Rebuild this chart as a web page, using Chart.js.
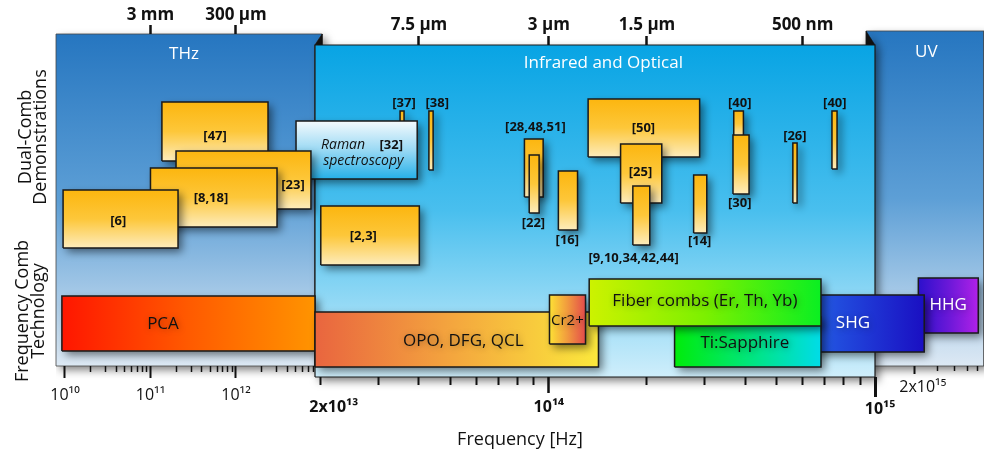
<!DOCTYPE html>
<html>
<head>
<meta charset="utf-8">
<script src="https://cdn.jsdelivr.net/npm/chart.js@4.4.1/dist/chart.umd.min.js"></script>
<style>
  html, body { margin: 0; padding: 0; background: #fff; }
  canvas { display: block; }
</style>
</head>
<body>
<canvas id="combChart" width="984" height="456"></canvas>
<script>
// ================= DATA (frequencies in Hz, heights in row units)

// spectral regions
const regionNames  = ['THz', 'UV', 'Infrared and Optical'];
const regionFrom   = [7.85e9, 9.39e14, 1.92e13];
const regionTo     = [8.4e12, 6.7e15, 1e15];
const regionTop    = [34.3, 34.6, 33.2];
const regionBottom = [1.1, 1.1, 0];
const regionTextAt = [2.47e11, 2.45e15, 1.47e14];
const regionTextY  = [32.3, 32.5, 31.4];

// dual-comb demonstrations (drawn back to front)
const demoRefs   = ['[37]', '[47]', '[23]', '[8,18]', '[6]', '[38]', '[2,3]', '[28,48,51]', '[22]', '[16]',
                    '[50]', '[25]', '[9,10,34,42,44]', '[14]', '[40]', '[30]', '[26]', '[40]'];
const demoFrom   = [3.50e13, 1.36e11, 1.99e11, 1.0e11, 9.5e9, 4.29e13, 2.0e13, 8.42e13, 8.71e13, 1.07e14,
                    1.32e14, 1.66e14, 1.81e14, 2.78e14, 3.69e14, 3.67e14, 5.60e14, 7.38e14];
const demoTo     = [3.60e13, 2.37e12, 7.53e12, 3.02e12, 2.1e11, 4.42e13, 4.01e13, 9.61e13, 9.34e13, 1.225e14,
                    2.90e14, 2.22e14, 2.04e14, 3.05e14, 3.95e14, 4.11e14, 5.77e14, 7.65e14];
const demoTop    = [26.6, 27.5, 22.6, 20.9, 18.7, 26.6, 17.1, 23.8, 22.2, 20.6,
                    27.8, 23.3, 19.1, 20.2, 26.6, 24.2, 23.4, 26.6];
const demoBottom = [24.5, 21.6, 16.8, 15.0, 12.9, 20.7, 11.2, 18.0, 16.4, 14.7,
                    22.0, 17.4, 13.2, 14.4, 24.0, 18.3, 17.4, 20.8];
const demoTextAt = [3.6e13, 5.7e11, 4.64e12, 5.1e11, 4.2e10, 4.55e13, 2.70e13, 9.1e13, 8.97e13, 1.14e14,
                    1.95e14, 1.91e14, 1.82e14, 2.90e14, 3.85e14, 3.85e14, 5.68e14, 7.53e14];
const demoTextY  = [27.4, 24.1, 19.2, 17.9, 15.6, 27.4, 14.1, 25.0, 15.4, 13.7,
                    24.9, 20.5, 11.9, 13.6, 27.4, 17.4, 24.1, 27.4];

// Raman spectroscopy [32]
const ramanRange = [5.04e12, 3.95e13];
const ramanRows  = [25.6, 19.8];
const ramanText  = ['Raman', '[32]', 'spectroscopy'];
const ramanTextAt = [2.34e13, 3.29e13, 2.70e13];
const ramanTextY  = [23.2, 23.2, 21.6];

// frequency comb technology (drawn back to front)
const techNames  = ['PCA', 'OPO, DFG, QCL', 'Cr2+', 'HHG', 'SHG', 'Ti:Sapphire', 'Fiber combs (Er, Th, Yb)'];
const techFrom   = [9.2e9, 1.92e13, 1.005e14, 2.13e15, 5.93e14, 2.43e14, 1.33e14];
const techTo     = [8.4e12, 1.42e14, 1.296e14, 6.06e15, 2.36e15, 6.83e14, 6.83e14];
const techTop    = [8.1, 6.5, 8.2, 9.9, 8.2, 6.0, 9.8];
const techBottom = [2.6, 1.0, 3.3, 4.4, 2.5, 1.0, 5.1];
const techTextAt = [1.4e11, 5.47e13, 1.14e14, 3.59e15, 8.56e14, 3.99e14, 3.01e14];
const techTextY  = [5.3, 3.6, 5.6, 7.2, 5.4, 3.4, 7.6];

// axis ticks
const waveTicksL = [1e11, 1e12];
const waveTextL  = ['3 mm', '300 μm'];
const waveTicksM = [4e13, 1e14, 2e14, 6e14];
const waveTextM  = ['7.5 μm', '3 μm', '1.5 μm', '500 nm'];
const freqTicksL = [1e10, 1e11, 1e12];
const freqTextL  = ['10¹⁰', '10¹¹', '10¹²'];
const freqTicksM = [2e13, 1e14, 1e15];
const freqTextM  = ['2x10¹³', '10¹⁴', '10¹⁵'];
const freqTicksR = [2e15];
const freqTextR  = ['2x10¹⁵'];

const sideText = [['Dual-Comb', 'Demonstrations'], ['Frequency Comb', 'Technology']];
const sideTextY = [24.0, 6.6];

// ================= STYLE
const FONT = "'Open Sans', 'DejaVu Sans', sans-serif";
Chart.defaults.font.family = FONT;
Chart.defaults.color = '#111';

const regionColors = [['#2676c0', '#5d9fd6', '#dde9f4'], ['#2676c0', '#5d9fd6', '#dde9f4'], ['#08a4e4', '#49bfee', '#cfeefb']];
const demoColors = ['#fcb60f', '#fdc73a', '#fdecbc'];
const ramanColors = ['#f4fafd', '#9ad9f4', '#25b0e8'];
const techColors = [
  ['#ff1600', '#ff5a00', '#ff9400'],
  ['#e9653f', '#f4a83e', '#fbe83c'],
  ['#fde135', '#f19a3e', '#e34b4b'],
  ['#2c10cc', '#6a18d8', '#b021e8'],
  ['#2466e8', '#1f3ad6', '#1a0fc2'],
  ['#00ec0a', '#00e67a', '#00dce8'],
  ['#cdf200', '#7cf000', '#0aef22']
];

// ================= piecewise logarithmic (broken) frequency axis
const AXIS_PIECES = [
  {from: 7.85e9, to: 8.4e12, span: 259},
  {from: 1.92e13, to: 1e15, span: 560},
  {from: 1e15, to: 6.7e15, span: 109}
];
const AXIS_SPAN = AXIS_PIECES.reduce((s, p) => s + p.span, 0);

class BrokenLogScale extends Chart.Scale {
  determineDataLimits() { this.min = 0; this.max = 1; }
  buildTicks() { return []; }
  getLabelForValue(v) { return String(v); }
  toDecimal(v) {
    const lg = Math.log10(v);
    let acc = 0;
    for (const p of AXIS_PIECES) {
      const a = Math.log10(p.from), b = Math.log10(p.to);
      if (lg <= b) {
        const f = Math.max(0, (lg - a) / (b - a));
        return (acc + f * p.span) / AXIS_SPAN;
      }
      acc += p.span;
    }
    return 1;
  }
  getPixelForValue(v) { return this.getPixelForDecimal(this.toDecimal(v)); }
  getValueForPixel(px) {
    let d = this.getDecimalForPixel(px) * AXIS_SPAN;
    for (const p of AXIS_PIECES) {
      if (d <= p.span) {
        const a = Math.log10(p.from), b = Math.log10(p.to);
        return Math.pow(10, a + (d / p.span) * (b - a));
      }
      d -= p.span;
    }
    return AXIS_PIECES[AXIS_PIECES.length - 1].to;
  }
}
BrokenLogScale.id = 'brokenLog';
BrokenLogScale.defaults = {};
Chart.register(BrokenLogScale);

function minorTicks(exps, keep) {
  const out = [];
  exps.forEach(e => { for (let m = 2; m <= 9; m++) { const v = m * Math.pow(10, e); if (keep(v)) out.push(v); } });
  return out;
}

function tickAxis(at, values, labels, o) {
  return {
    type: 'brokenLog',
    axis: 'x',
    position: {y: at},
    afterBuildTicks: axis => { axis.ticks = values.map(v => ({value: v})); },
    border: {display: false},
    grid: {display: true, drawOnChartArea: false, drawTicks: true, tickLength: o.len,
           tickWidth: o.width || 1.5, tickColor: '#111', z: 1},
    ticks: {display: !!labels, autoSkip: false, maxRotation: 0, minRotation: 0, z: 1,
            padding: o.pad || 0, labelOffset: o.offset || 0, color: '#111',
            font: {size: o.size || 16, weight: o.weight || 'normal'},
            callback: (v, i) => labels ? labels[i] : ''},
    title: o.title || {display: false}
  };
}

// ================= build datasets
function gradientFill(stops, vertical) {
  return (context) => {
    const chart = context.chart;
    const ds = chart.data.datasets[context.datasetIndex];
    const xs = chart.scales.x, ys = chart.scales.y;
    if (!ds || !xs || !ys || !chart.chartArea) return stops[0];
    const px = ds.data.map(p => xs.getPixelForValue(p.x));
    const py = ds.data.map(p => ys.getPixelForValue(p.y));
    const g = vertical
      ? chart.ctx.createLinearGradient(0, Math.min(...py), 0, Math.max(...py))
      : chart.ctx.createLinearGradient(Math.min(...px), 0, Math.max(...px), 0);
    stops.forEach((c, i) => g.addColorStop(i / (stops.length - 1), c));
    return g;
  };
}

function shape(points, fill, border, width) {
  return {
    type: 'line',
    xAxisID: 'x', yAxisID: 'y',
    data: points.map(p => ({x: p[0], y: p[1]})),
    fill: 'shape',
    backgroundColor: fill,
    borderColor: border,
    borderWidth: width,
    borderJoinStyle: 'miter',
    pointRadius: 0,
    tension: 0,
    clip: false
  };
}

function rect(lo, hi, top, bottom) {
  return [[lo, bottom], [lo, top], [hi, top], [hi, bottom], [lo, bottom]];
}

const datasets = [];
// THz region, with its folded corner running onto the IR panel
datasets.push(shape([[regionFrom[0], regionBottom[0]], [regionFrom[0], regionTop[0]], [2.02e13, regionTop[0]],
                     [regionFrom[2], regionTop[2]], [regionFrom[2], regionBottom[0]], [regionFrom[0], regionBottom[0]]],
                    gradientFill(regionColors[0], true), 'rgba(70,70,70,0.8)', 1));
datasets.push(shape(rect(regionFrom[1], regionTo[1], regionTop[1], regionBottom[1]),
                    gradientFill(regionColors[1], true), 'rgba(70,70,70,0.8)', 1));
datasets.push(shape([[2.02e13, regionTop[0]], [2.02e13, regionTop[2]], [regionFrom[2], regionTop[2]], [2.02e13, regionTop[0]]],
                    '#111', '#111', 0.5));
datasets.push(shape([[regionFrom[1], regionTop[1]], [regionTo[2], regionTop[2]], [regionFrom[1], regionTop[2]], [regionFrom[1], regionTop[1]]],
                    '#111', '#111', 0.5));
datasets.push(shape(rect(regionFrom[2], regionTo[2], regionTop[2], regionBottom[2]),
                    gradientFill(regionColors[2], true), '#1a1a1a', 1.2));

demoRefs.forEach((ref, i) => {
  datasets.push(shape(rect(demoFrom[i], demoTo[i], demoTop[i], demoBottom[i]),
                      gradientFill(demoColors, true), '#1a1a1a', 1.5));
  if (i === 0) {
    datasets.push(shape(rect(ramanRange[0], ramanRange[1], ramanRows[0], ramanRows[1]),
                        gradientFill(ramanColors, true), '#1a1a1a', 1.5));
  }
});

techNames.forEach((name, i) => {
  datasets.push(shape(rect(techFrom[i], techTo[i], techTop[i], techBottom[i]),
                      gradientFill(techColors[i], false), '#1a1a1a', 1.5));
});

// first dataset is painted at the back
datasets.forEach((d, i) => { d.order = datasets.length - i; });

// ================= plugins
const shadowPlugin = {
  id: 'dropShadow',
  beforeDatasetsDraw(chart) {
    const ctx = chart.ctx;
    const baseFill = CanvasRenderingContext2D.prototype.fill;
    ctx.fill = function () {
      this.save();
      this.shadowColor = 'rgba(0,0,0,0.5)';
      this.shadowBlur = 8;
      this.shadowOffsetX = 4;
      this.shadowOffsetY = 4;
      baseFill.apply(this, arguments);
      this.restore();
    };
  },
  afterDatasetsDraw(chart) { delete chart.ctx.fill; }
};

const textPlugin = {
  id: 'boxText',
  afterDatasetsDraw(chart) {
    const {ctx} = chart;
    const xs = chart.scales.x, ys = chart.scales.y;
    const put = (text, f, v, font, color) => {
      ctx.font = font;
      ctx.fillStyle = color;
      ctx.fillText(text, xs.getPixelForValue(f), ys.getPixelForValue(v));
    };
    ctx.save();
    ctx.textAlign = 'center';
    ctx.textBaseline = 'middle';
    regionNames.forEach((t, i) => put(t, regionTextAt[i], regionTextY[i], `17px ${FONT}`, '#fff'));
    demoRefs.forEach((t, i) => put(t, demoTextAt[i], demoTextY[i], `bold 13px ${FONT}`, '#111'));
    ramanText.forEach((t, i) => put(t, ramanTextAt[i], ramanTextY[i],
      t.startsWith('[') ? `bold 13px ${FONT}` : `italic 14px ${FONT}`, '#111'));

    ctx.save();
    ctx.shadowColor = 'rgba(0,0,0,0.35)';
    ctx.shadowBlur = 6;
    ctx.shadowOffsetX = 1;
    ctx.shadowOffsetY = 1;
    techNames.forEach((t, i) => put(t, techTextAt[i], techTextY[i],
      t === 'Cr2+' ? `15px ${FONT}` : `17px ${FONT}`, (t === 'SHG' || t === 'HHG') ? '#fff' : '#111'));
    ctx.restore();

    // row titles on the left
    ctx.font = `18px ${FONT}`;
    ctx.fillStyle = '#111';
    const colX = [[26, 41], [23, 39]];
    sideText.forEach((lines, k) => {
      lines.forEach((line, j) => {
        ctx.save();
        ctx.translate(colX[k][j], ys.getPixelForValue(sideTextY[k]));
        ctx.rotate(-Math.PI / 2);
        ctx.fillText(line, 0, 0);
        ctx.restore();
      });
    });
    ctx.restore();
  }
};

// ================= chart
const minorL = minorTicks([10, 11, 12], v => v <= 8.2e12);
const minorM = minorTicks([13, 14], v => v > 2e13 && v < 1e15 && v !== 1e14);
const minorR = minorTicks([15], v => v > 2e15 && v < 6.5e15);

new Chart(document.getElementById('combChart'), {
  type: 'line',
  data: {datasets: datasets},
  options: {
    responsive: false,
    animation: false,
    devicePixelRatio: 1,
    events: [],
    layout: {padding: {left: 56, right: 0, top: 20, bottom: 56}, autoPadding: false},
    plugins: {legend: {display: false}, tooltip: {enabled: false}},
    scales: {
      x: {type: 'brokenLog', display: false},
      y: {type: 'linear', min: -2.3, max: 35.7, display: false},
      xTopL: tickAxis(regionTop[0], waveTicksL, waveTextL, {len: -9, width: 2.5, pad: -20, size: 17, weight: 'bold'}),
      xTopM: tickAxis(regionTop[2], waveTicksM, waveTextM, {len: -9, width: 2.5, pad: -21, size: 17, weight: 'bold'}),
      xLowL: tickAxis(regionBottom[0], freqTicksL, freqTextL, {len: 12, width: 2, pad: 8, size: 16}),
      xLowLm: tickAxis(regionBottom[0], minorL, null, {len: 6, width: 1.5}),
      xLowM13: tickAxis(regionBottom[2], [freqTicksM[0]], [freqTextM[0]], {len: 8, width: 2, pad: 13, size: 16, weight: 'bold', offset: 13}),
      xLowM14: tickAxis(regionBottom[2], [freqTicksM[1]], [freqTextM[1]], {len: 16, width: 2.5, pad: 5, size: 16, weight: 'bold',
        title: {display: true, text: 'Frequency [Hz]', color: '#111', font: {size: 18}, padding: {top: 7, bottom: 0}}}),
      xLowM15: tickAxis(regionBottom[2], [freqTicksM[2]], [freqTextM[2]], {len: 20, width: 3, pad: 3, size: 16, weight: 'bold', offset: 5}),
      xLowMm: tickAxis(regionBottom[2], minorM, null, {len: 8, width: 2}),
      xLowR: tickAxis(regionBottom[1], freqTicksR, freqTextR, {len: 8, width: 2, pad: 4, size: 16, offset: 8}),
      xLowRm: tickAxis(regionBottom[1], minorR, null, {len: 5, width: 1.5})
    }
  },
  plugins: [shadowPlugin, textPlugin]
});
</script>
</body>
</html>
